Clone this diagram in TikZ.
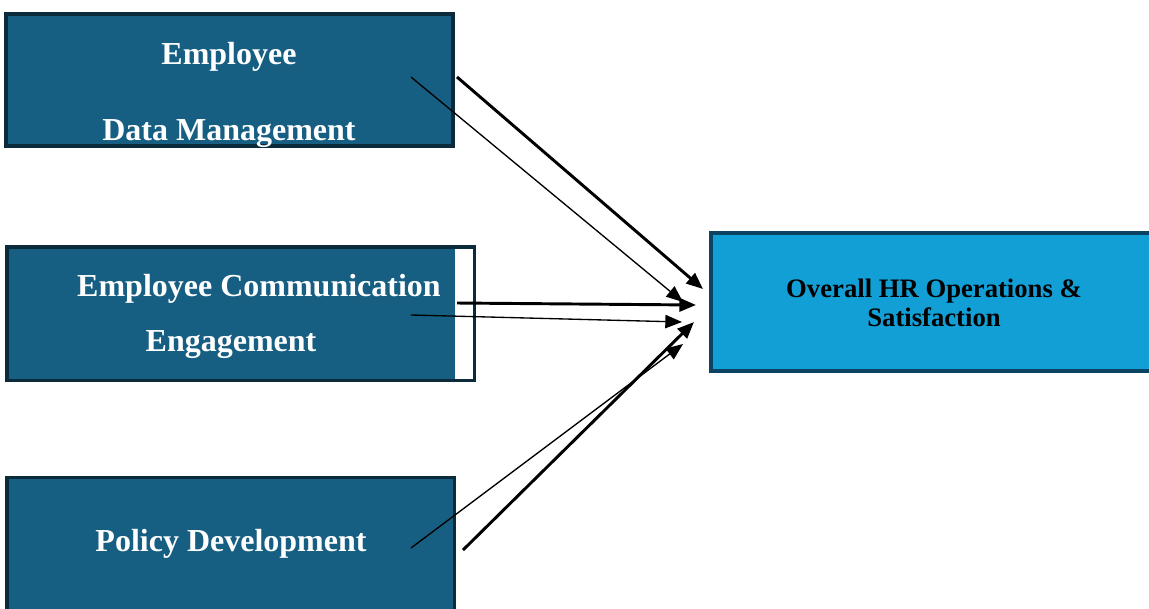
\documentclass[tikz,border=0pt]{standalone}
\usepackage{fontspec}
\setmainfont{Liberation Serif}
\usetikzlibrary{arrows.meta}

\definecolor{boxblue}{RGB}{23,95,130}
\definecolor{boxedge}{RGB}{11,42,58}
\definecolor{outblue}{RGB}{17,159,214}
\definecolor{outedge}{RGB}{12,66,98}

\tikzset{every picture/.style={line width=0.75pt}}
\tikzset{
  factor/.style={draw=boxedge, fill=boxblue, line width=2.6pt, inner sep=0pt},
  outcome/.style={draw=outedge, fill=outblue, line width=2.6pt, inner sep=0pt},
  ftext/.style={anchor=base, inner sep=0pt, text=white, font=\fontsize{24}{28}\selectfont\bfseries},
  otext/.style={anchor=base, inner sep=0pt, text=black, font=\fontsize{20}{22.5}\selectfont\bfseries},
  thin link/.style={line width=1pt, -{Triangle[length=12.5pt, width=10pt]}},
  thick link/.style={line width=2.2pt, -{Triangle[length=12.5pt, width=10pt]}}
}

\begin{document}
\begin{tikzpicture}[x=0.75pt,y=0.75pt,yscale=-1,xscale=1]
        \useasboundingbox (0,0) rectangle (1149,608);
        \clip (0,0) rectangle (1149,608);

        % Boxes
        \node [factor, minimum width=335.25pt, minimum height=99pt] (datamgmt) at (229.5,80) {};
        \node [factor, fill=white, minimum width=350.6pt, minimum height=100.1pt] (comm) at (240.75,313.75) {};
        \fill [boxblue] (8.5,248.5) rectangle (455,379);
        \node [factor, minimum width=335.6pt, minimum height=121.9pt] (policy) at (230.75,558.75) {};
        \node [outcome, minimum width=336.75pt, minimum height=103.5pt] (overall) at (935.5,302) {};

        % Text Node
        \node [ftext] (dm1) at (229,64) {Employee};
        \node [ftext] (dm2) at (229,140) {Data Management};
        \node [ftext] (cm1) at (259,296.7) {Employee Communication};
        \node [ftext] (cm2) at (231,351.7) {Engagement};
        \node [ftext] (pd1) at (231,551.7) {Policy Development};
        \node [otext] (ov1) at (934,297) {Overall HR Operations \&};
        \node [otext] (ov2) at (934,326.7) {Satisfaction};

        % Link ends
        \coordinate (dm-a) at (411,77);
        \coordinate (dm-b) at (457,77);
        \coordinate (cm-a) at (411,315);
        \coordinate (cm-b) at (457,303);
        \coordinate (pd-a) at (411,548);
        \coordinate (pd-b) at (463,550);
        \coordinate (tip1) at (683,302);
        \coordinate (tip2) at (703,289);
        \coordinate (tip3) at (682,322);
        \coordinate (tip4) at (696,305);
        \coordinate (tip5) at (683,344);
        \coordinate (tip6) at (694,322);

        %Straight Lines
        \draw [thin link] (dm-a) -- (tip1);
        \draw [thick link] (dm-b) -- (tip2);
        \draw [thin link] (cm-a) -- (tip3);
        \draw [thick link] (cm-b) -- (tip4);
        \draw [thin link] (pd-a) -- (tip5);
        \draw [thick link] (pd-b) -- (tip6);
\end{tikzpicture}
\end{document}
